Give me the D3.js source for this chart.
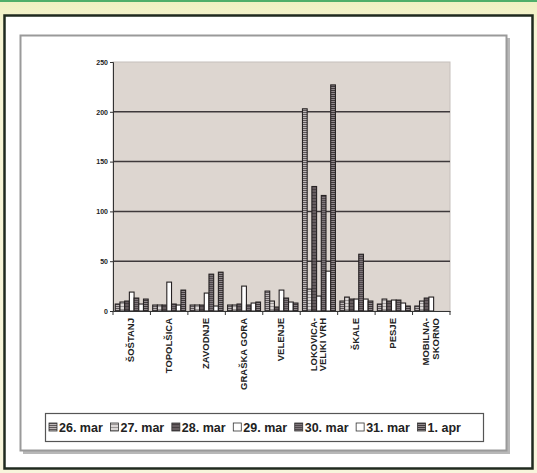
<!DOCTYPE html>
<html>
<head>
<meta charset="utf-8">
<script src="https://cdn.jsdelivr.net/npm/d3@7"></script>
<style>
body { margin: 0; background: #f6f3d2; }
svg { display: block; font-family: "Liberation Sans", Arial, sans-serif; }
</style>
</head>
<body>
<div id="chart"></div>
<script>
// Data
var categories = ["ŠOŠTANJ", "TOPOLŠICA", "ZAVODNJE", "GRAŠKA GORA", "VELENJE",
	"LOKOVICA-|VELIKI VRH", "ŠKALE", "PESJE", "MOBILNA-|SKORNO"];
var dates = ["26. mar", "27. mar", "28. mar", "29. mar", "30. mar", "31. mar", "1. apr"];

var mar26 = [7, 6, 6, 6, 20, 203, 10, 7, 5];
var mar27 = [9, 6, 6, 6, 10, 22, 14, 12, 10];
var mar28 = [10, 6, 6, 7, 4, 125, 12, 10, 13];
var mar29 = [19, 29, 18, 25, 21, 15, 12, 11, 14];
var mar30 = [13, 7, 37, 6, 13, 116, 57, 11, null];
var mar31 = [7, 6, 5, 8, 9, 40, 12, 8, null];
var apr1 = [12, 21, 39, 9, 8, 227, 10, 5, null];
var series = [mar26, mar27, mar28, mar29, mar30, mar31, apr1];

var yTicks = [0, 50, 100, 150, 200, 250];

var W = 537, H = 473;
var svg = d3.select("#chart").append("svg")
	.attr("width", W)
	.attr("height", H);

// Patterns for the bar fills
var defs = svg.append("defs");
var grad = defs.append("linearGradient").attr("id", "bg").attr("x1", 0).attr("y1", 0).attr("x2", 0).attr("y2", 1);
grad.append("stop").attr("offset", 0).attr("stop-color", "#eef0c0");
grad.append("stop").attr("offset", 0.06).attr("stop-color", "#f7f4d4");
grad.append("stop").attr("offset", 1).attr("stop-color", "#f8f5dc");

function hatch(id, bg, line, step) {
	var p = defs.append("pattern").attr("id", id)
		.attr("patternUnits", "userSpaceOnUse")
		.attr("width", 4).attr("height", step);
	p.append("rect").attr("width", 4).attr("height", step).attr("fill", bg);
	p.append("rect").attr("width", 4).attr("height", 1).attr("fill", line);
}
hatch("p0", "#bdb7b8", "#5e585a", 2);
hatch("p1", "#dcd8d7", "#9c9898", 3);
hatch("p2", "#665d60", "#463f42", 3);
hatch("p4", "#7f777b", "#4f484c", 2);
hatch("p6", "#918a8d", "#403a3c", 2);
var fills = ["url(#p0)", "url(#p1)", "url(#p2)", "#ffffff", "url(#p4)", "#ffffff", "url(#p6)"];

// Page background and frames
svg.append("rect").attr("width", W).attr("height", H).attr("fill", "url(#bg)");
svg.append("rect").attr("width", W).attr("height", 2).attr("fill", "#4fae6a");
svg.append("rect").attr("x", 4.5).attr("y", 15.5).attr("width", 528).attr("height", 453)
	.attr("fill", "#ffffff").attr("stroke", "#1f2a1f").attr("stroke-width", 2.5);

// chart area with shadow
svg.append("rect").attr("x", 23).attr("y", 38).attr("width", 487).attr("height", 416).attr("fill", "#b8b8b8");
svg.append("rect").attr("x", 20.5).attr("y", 35.5).attr("width", 486).attr("height", 415)
	.attr("fill", "#ffffff").attr("stroke", "#9a9a9a").attr("stroke-width", 2);

var pLeft = 113, pRight = 450, pTop = 62, pBottom = 311;

var x0 = d3.scaleBand().domain(categories).range([pLeft, pRight]).padding(0);
var gap = x0.bandwidth() * 0.12;
var x1 = d3.scaleBand().domain(d3.range(dates.length)).range([gap / 2, x0.bandwidth() - gap / 2]).padding(0);
var y = d3.scaleLinear().domain([0, 250]).range([pBottom, pTop]);

// plot area
svg.append("rect").attr("x", pLeft).attr("y", pTop).attr("width", pRight - pLeft).attr("height", pBottom - pTop)
	.attr("fill", "#ddd6d0").attr("stroke", "#c6c0bc");

svg.append("g").selectAll("line")
	.data(yTicks.filter(function(d) { return d > 0 && d < 250; }))
	.join("line")
	.attr("x1", pLeft).attr("x2", pRight)
	.attr("y1", function(d) { return y(d); }).attr("y2", function(d) { return y(d); })
	.attr("stroke", "#3e393b").attr("stroke-width", 1.5);

// bars
var rows = categories.map(function(c, i) {
	return series.map(function(s, j) { return {cat: c, k: j, v: s[i]}; });
});
svg.append("g").selectAll("g")
	.data(rows)
	.join("g")
	.attr("transform", function(d, i) { return "translate(" + x0(categories[i]) + ",0)"; })
	.selectAll("rect")
	.data(function(d) { return d.filter(function(e) { return e.v != null; }); })
	.join("rect")
	.attr("x", function(d) { return x1(d.k); })
	.attr("width", x1.bandwidth())
	.attr("y", function(d) { return y(d.v); })
	.attr("height", function(d) { return pBottom - y(d.v); })
	.attr("fill", function(d) { return fills[d.k]; })
	.attr("stroke", "#262223")
	.attr("stroke-width", 1.1);

// y axis
var yAxis = d3.axisLeft(y).tickValues(yTicks).tickSize(3).tickPadding(2);
var gy = svg.append("g").attr("transform", "translate(" + pLeft + ",0)").call(yAxis);
gy.selectAll("text").attr("font-size", 7).attr("font-weight", "bold").attr("fill", "#222");
gy.selectAll("line, path").attr("stroke", "#333");

// x axis
var xAxis = d3.axisBottom(x0).tickSize(0).tickFormat("");
var gx = svg.append("g").attr("transform", "translate(0," + pBottom + ")").call(xAxis);
gx.select("path").attr("stroke", "#333");
gx.selectAll(".bnd").data(d3.range(categories.length + 1)).join("line")
	.attr("class", "bnd")
	.attr("x1", function(i) { return pLeft + i * x0.step(); })
	.attr("x2", function(i) { return pLeft + i * x0.step(); })
	.attr("y1", 0).attr("y2", 4)
	.attr("stroke", "#333");

// rotated category labels
var labels = svg.append("g").selectAll("text")
	.data(categories)
	.join("text")
	.attr("transform", function(d) {
		var parts = d.split("|");
		var cx = x0(d) + x0.bandwidth() / 2 + 2.5 - (parts.length - 1) * 4.5;
		return "translate(" + cx + ",318) rotate(-90)";
	})
	.attr("text-anchor", "end")
	.attr("font-size", 9.5)
	.attr("font-weight", "bold")
	.attr("fill", "#222");
labels.selectAll("tspan")
	.data(function(d) { return d.split("|"); })
	.join("tspan")
	.attr("x", 0)
	.attr("dy", function(d, i) { return i ? "1.0em" : 0; })
	.text(function(d) { return d; });

// legend
var lx = 45, ly = 413, lw = 438, lh = 28;
svg.append("rect").attr("x", lx + 0.5).attr("y", ly + 0.5).attr("width", lw).attr("height", lh)
	.attr("fill", "#ffffff").attr("stroke", "#555").attr("stroke-width", 1.2);
var step = (lw - 8) / dates.length;
var items = svg.append("g").selectAll("g")
	.data(dates)
	.join("g")
	.attr("transform", function(d, i) { return "translate(" + (lx + 4 + i * step) + "," + (ly + lh / 2) + ")"; });
items.append("rect")
	.attr("x", 0).attr("y", -4).attr("width", 8).attr("height", 8)
	.attr("fill", function(d, i) { return fills[i]; })
	.attr("stroke", "#333").attr("stroke-width", 0.8);
items.append("text")
	.attr("x", 10).attr("y", 4.5)
	.attr("font-size", 12.5)
	.attr("font-weight", "bold")
	.attr("fill", "#222")
	.text(function(d) { return d; });
</script>
</body>
</html>
